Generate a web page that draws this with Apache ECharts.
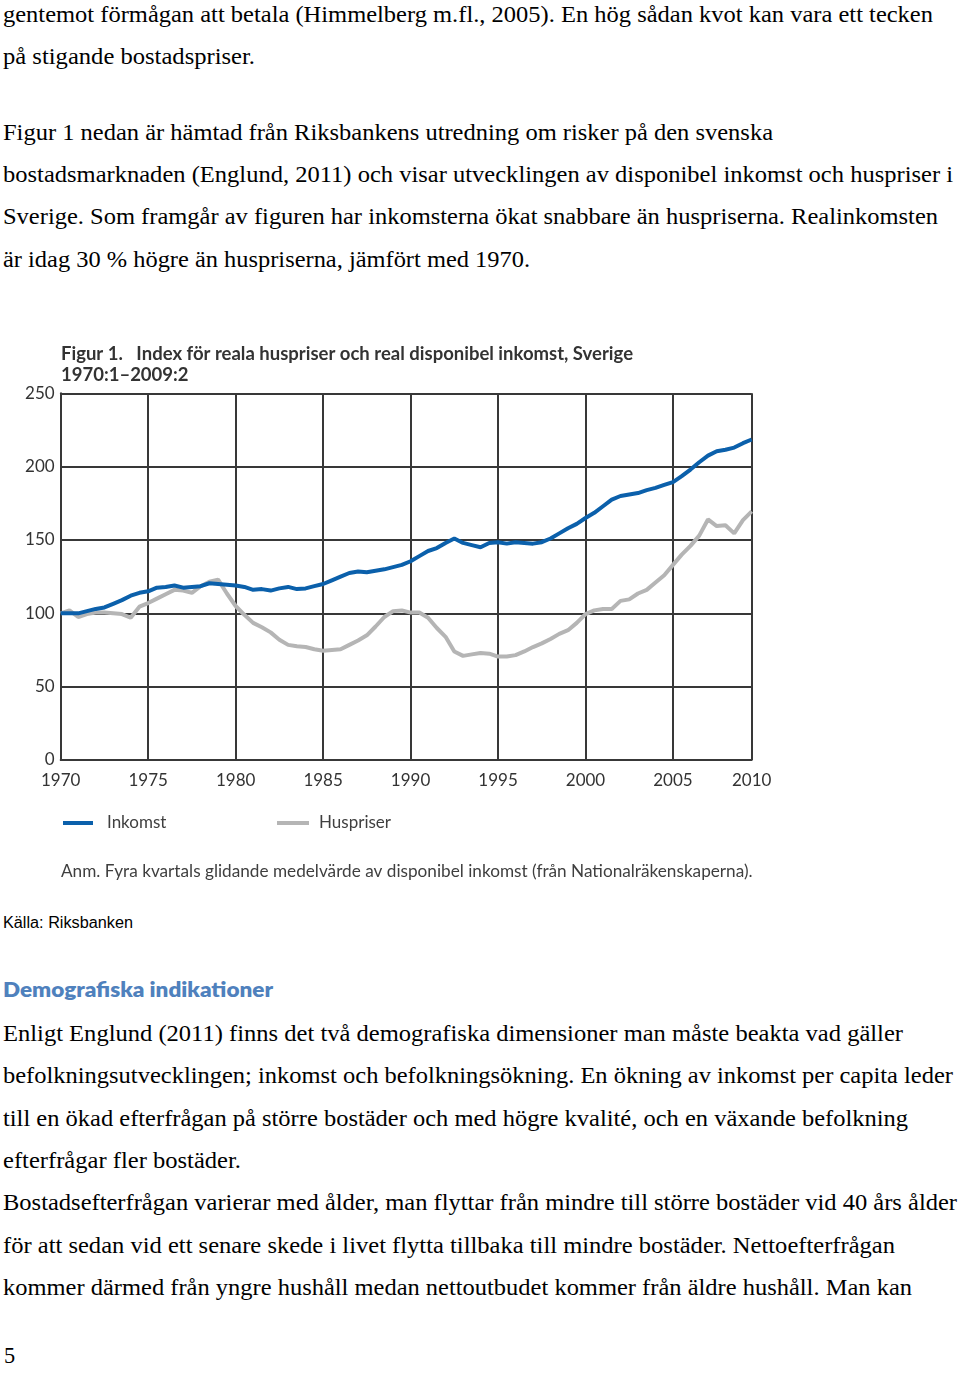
<!DOCTYPE html>
<html><head><meta charset="utf-8">
<script src="https://cdn.jsdelivr.net/npm/echarts@6/dist/echarts.min.js"></script>
<style>
html,body{margin:0;padding:0;background:#fff;}
body{width:960px;height:1375px;position:relative;overflow:hidden;}
.t{position:absolute;white-space:nowrap;transform-origin:0 0;color:#000;margin:0;}
#chart{position:absolute;left:0;top:330px;width:800px;height:570px;}
</style></head><body>
<div id="chart"></div>
<script>
// ---- chart data (half-year steps from 1970:1) ----
const periodStart = 1970;
const periodStep = 0.5;
const inkomst = [
  100, 100, 100, 101.5, 103, 104, 106.5, 109, 112, 114,
  115, 117.5, 118, 119, 117.5, 118, 118.5, 120.5, 120, 119.5,
  119, 118, 116, 116.5, 115.5, 117, 118, 116.5, 117, 118.5,
  120, 122.5, 125, 127.5, 128.5, 128, 129, 130, 131.5, 133,
  135.5, 139, 142.5, 144.5, 148, 151, 148, 146.5, 145, 148,
  148.5, 147.5, 148.5, 148, 147.5, 148.5, 151, 154.5, 158, 161,
  165, 168.5, 173, 177.5, 180, 181, 182, 184, 185.5, 187.5,
  189.5, 193.5, 198, 203, 207.5, 210.5, 211.5, 213, 216, 218.5
];
const huspriser = [
  100, 102, 97.5, 99.5, 100.5, 100.5, 100, 99.5, 97, 104.5,
  107, 110, 113, 116, 115.5, 114, 118.5, 121.5, 123, 113.5,
  105, 99, 93.5, 90.5, 87, 82, 78.5, 77.5, 77, 75.5,
  74.5, 75, 75.5, 78.5, 81.5, 85, 91, 97.5, 101.5, 102,
  100.5, 100.5, 97, 90, 84, 74, 71, 72, 73, 72.5,
  70.5, 70.5, 71.5, 74, 77, 79.5, 82.5, 86, 88.5, 93.5,
  99.5, 102, 103, 103, 108.5, 109.5, 113.5, 116, 121, 126,
  133, 140, 146, 153, 164, 159.5, 160, 154.5, 163.5, 169.5
];
const seriesNames = ['Inkomst', 'Huspriser'];
const yMin = 0, yMax = 250, yStep = 50;
const xMin = 1970, xMax = 2009.5, xStep = 5;
const chartTitle = 'Figur 1.   Index för reala huspriser och real disponibel inkomst, Sverige\n1970:1–2009:2';
const chartNote = 'Anm. Fyra kvartals glidande medelvärde av disponibel inkomst (från Nationalräkenskaperna).';

// ---- page text ----
const SERIF = '"Liberation Serif","Times New Roman",serif';
const pageLines = [
  [22.5, 933, 'gentemot förmågan att betala (Himmelberg m.fl., 2005). En hög sådan kvot kan vara ett tecken'],
  [64.8, 255, 'på stigande bostadspriser.'],
  [140.5, 773, 'Figur 1 nedan är hämtad från Riksbankens utredning om risker på den svenska'],
  [182.8, 953, 'bostadsmarknaden (Englund, 2011) och visar utvecklingen av disponibel inkomst och huspriser i'],
  [225.1, 938, 'Sverige. Som framgår av figuren har inkomsterna ökat snabbare än huspriserna. Realinkomsten'],
  [267.4, 530, 'är idag 30 % högre än huspriserna, jämfört med 1970.'],
  [1041.7, 903, 'Enligt Englund (2011) finns det två demografiska dimensioner man måste beakta vad gäller'],
  [1084, 953, 'befolkningsutvecklingen; inkomst och befolkningsökning. En ökning av inkomst per capita leder'],
  [1126.3, 908, 'till en ökad efterfrågan på större bostäder och med högre kvalité, och en växande befolkning'],
  [1168.6, 241, 'efterfrågar fler bostäder.'],
  [1210.9, 957, 'Bostadsefterfrågan varierar med ålder, man flyttar från mindre till större bostäder vid 40 års ålder'],
  [1253.2, 895, 'för att sedan vid ett senare skede i livet flytta tillbaka till mindre bostäder. Nettoefterfrågan'],
  [1295.5, 912, 'kommer därmed från yngre hushåll medan nettoutbudet kommer från äldre hushåll. Man kan']
];
const fitted = [];
function addText(txt, left, baseline, right, family, size, ascRatio, weight, color) {
  const d = document.createElement('div');
  d.className = 't';
  d.textContent = txt;
  d.style.fontFamily = family;
  d.style.fontSize = size + 'px';
  d.style.lineHeight = size + 'px';
  d.style.fontWeight = weight || 'normal';
  d.style.color = color || '#000';
  d.style.left = left + 'px';
  d.style.top = (baseline - ascRatio * size) + 'px';
  document.body.appendChild(d);
  if (right) fitted.push([d, right - left]);
}
pageLines.forEach(l => addText(l[2], 3, l[0], l[1], SERIF, 22.3, 0.8375));
addText('5', 4, 1364, null, SERIF, 22.3, 0.8375);
addText('Källa: Riksbanken', 3, 928.3, 133, '"Liberation Sans",Arial,sans-serif', 16, 0.8465);
addText('Demografiska indikationer', 3, 996.7, 273, 'Lato,"Open Sans",sans-serif', 21, 0.887, '800', '#4f81bd');
function fit() {
  fitted.forEach(([d, w]) => {
    d.style.transform = 'none';
    const nat = d.getBoundingClientRect().width;
    if (nat > 0) d.style.transform = 'scaleX(' + (w / nat) + ')';
  });
}
fit();
if (document.fonts && document.fonts.ready) document.fonts.ready.then(fit);

// ---- chart ----
const FONT = 'Lato, "Open Sans", sans-serif';
const GRIDC = '#383838';
const BLUE = '#0b60ab';
const GREY = '#b5b5b5';
const toPairs = arr => arr.map((v, i) => [periodStart + i * periodStep, v]);
const chart = echarts.init(document.getElementById('chart'), null, {renderer: 'canvas'});
chart.setOption({
  animation: false,
  backgroundColor: 'transparent',
  title: [
    {text: chartTitle, left: 61, top: 14, padding: 0,
     textStyle: {fontFamily: FONT, fontWeight: 'bold', fontSize: 18.5, lineHeight: 20.5, color: '#333'}},
    {text: chartNote, left: 61, top: 533, padding: 0,
     textStyle: {fontFamily: FONT, fontWeight: 'normal', fontSize: 17.2, color: '#3f3f3f'}}
  ],
  legend: [
    {data: [seriesNames[0]], left: 63, top: 484.5, padding: 0, icon: 'rect', itemWidth: 30, itemHeight: 4,
     selectedMode: false, textStyle: {fontFamily: FONT, fontSize: 17, color: '#3f3f3f', padding: [0, 0, 0, 9]}},
    {data: [seriesNames[1]], left: 277, top: 484.5, padding: 0, icon: 'rect', itemWidth: 32, itemHeight: 4,
     selectedMode: false, textStyle: {fontFamily: FONT, fontSize: 17, color: '#3f3f3f', padding: [0, 0, 0, 5]}}
  ],
  grid: {left: 60.7, top: 63.3, width: 691, height: 366.7, containLabel: false},
  xAxis: {
    type: 'value', min: xMin, max: xMax, interval: xStep,
    axisLine: {show: true, onZero: false, lineStyle: {color: GRIDC, width: 2}},
    axisTick: {show: false},
    axisLabel: {show: true, showMinLabel: true, showMaxLabel: true, margin: 12,
      formatter: v => String(Math.round(v)),
      fontFamily: FONT, fontSize: 17, color: '#333'},
    splitLine: {show: true, lineStyle: {color: GRIDC, width: 2}}
  },
  yAxis: {
    type: 'value', min: yMin, max: yMax, interval: yStep,
    axisLine: {show: true, onZero: false, lineStyle: {color: GRIDC, width: 2}},
    axisTick: {show: false},
    axisLabel: {show: true, margin: 6, fontFamily: FONT, fontSize: 17, color: '#333'},
    splitLine: {show: true, lineStyle: {color: GRIDC, width: 2}}
  },
  series: [
    {name: seriesNames[1], type: 'line', data: toPairs(huspriser), symbol: 'none', showSymbol: false,
     lineStyle: {color: GREY, width: 4}, itemStyle: {color: GREY}, z: 2},
    {name: seriesNames[0], type: 'line', data: toPairs(inkomst), symbol: 'none', showSymbol: false,
     lineStyle: {color: BLUE, width: 4}, itemStyle: {color: BLUE}, z: 3}
  ]
});
</script>
</body></html>
